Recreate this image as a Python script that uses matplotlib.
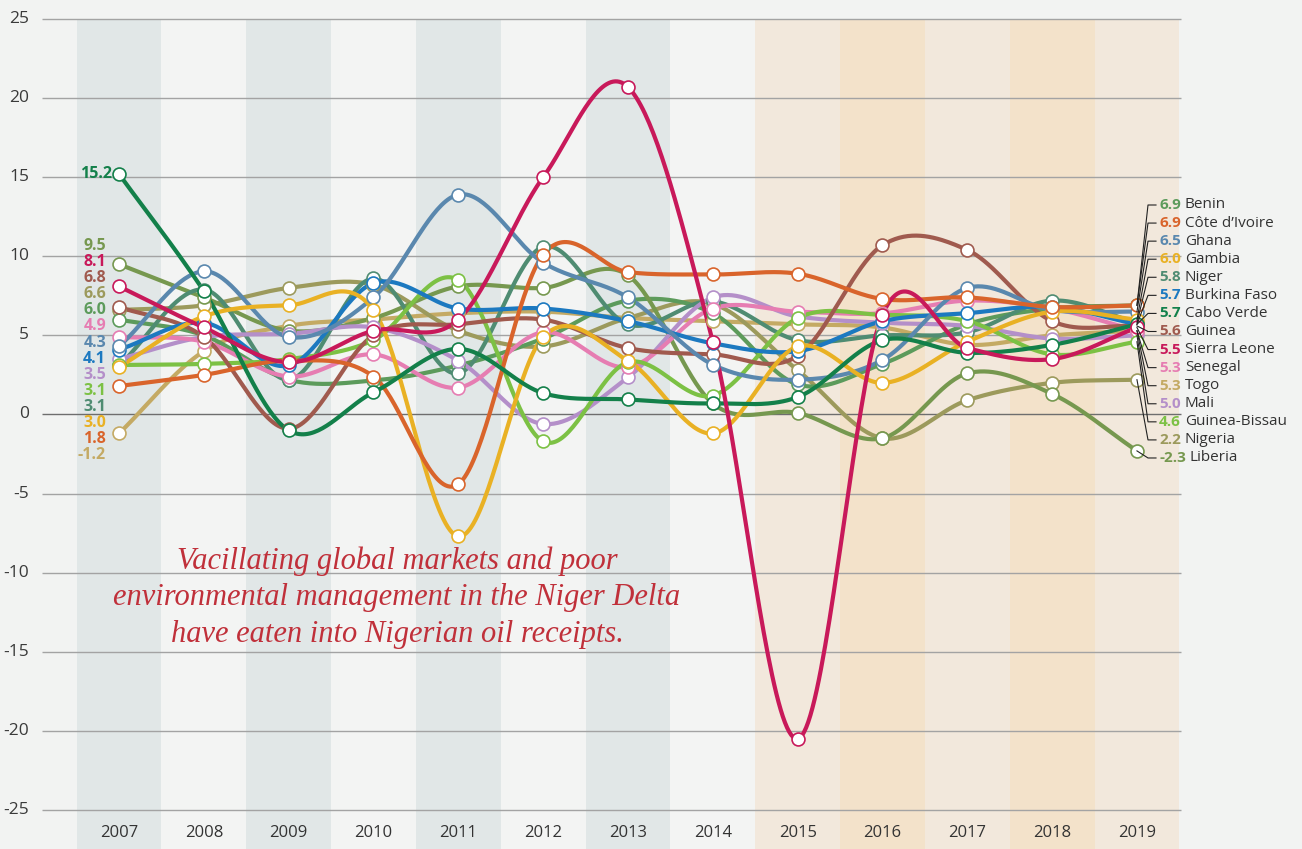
import numpy as np
import matplotlib
matplotlib.use('Agg')
import matplotlib.pyplot as plt

# ---------------- data ----------------
years = list(range(2007, 2020))
countries = ['Benin', 'Côte d’Ivoire', 'Ghana', 'Gambia', 'Niger', 'Burkina Faso',
             'Cabo Verde', 'Guinea', 'Sierra Leone', 'Senegal', 'Togo', 'Mali',
             'Guinea-Bissau', 'Nigeria', 'Liberia']

benin         = [6.0, 5.0, 2.2, 2.15, 3.1, 4.8, 7.2, 6.4, 1.9, 3.2, 5.7, 6.7, 6.9]
cote_divoire  = [1.8, 2.5, 3.4, 2.4, -4.4, 10.1, 9.0, 8.85, 8.9, 7.3, 7.4, 6.8, 6.9]
ghana         = [4.3, 9.05, 4.9, 7.4, 13.9, 9.6, 7.4, 3.15, 2.2, 3.45, 8.0, 6.6, 6.5]
gambia        = [3.0, 6.2, 6.9, 6.6, -7.7, 4.9, 3.4, -1.2, 4.3, 2.0, 4.6, 6.5, 6.0]
niger         = [3.1, 7.9, 2.2, 8.6, 2.6, 10.6, 5.7, 7.15, 4.7, 5.0, 5.2, 7.2, 5.8]
burkina_faso  = [4.1, 5.8, 3.1, 8.3, 6.7, 6.7, 5.9, 4.5, 4.0, 5.9, 6.4, 6.8, 5.7]
cabo_verde    = [15.2, 7.8, -1.0, 1.4, 4.15, 1.35, 0.95, 0.7, 1.1, 4.7, 3.9, 4.4, 5.7]
guinea        = [6.8, 4.9, -0.9, 5.0, 5.7, 6.0, 4.2, 3.8, 3.7, 10.7, 10.4, 5.9, 5.6]
sierra_leone  = [8.1, 5.5, 3.3, 5.3, 6.0, 15.0, 20.7, 4.6, -20.5, 6.3, 4.2, 3.5, 5.5]
senegal       = [4.9, 4.6, 2.4, 3.8, 1.7, 5.2, 3.0, 6.7, 6.5, 6.4, 7.2, 6.7, 5.3]
togo          = [-1.2, 4.0, 5.6, 6.0, 6.4, 6.5, 6.1, 5.9, 5.7, 5.5, 4.4, 5.0, 5.3]
mali          = [3.5, 4.9, 5.1, 5.5, 3.4, -0.6, 2.35, 7.4, 6.2, 5.8, 5.6, 4.8, 5.0]
guinea_bissau = [3.13, 3.2, 3.5, 4.7, 8.5, -1.7, 3.3, 1.2, 6.1, 6.3, 5.9, 3.8, 4.6]
nigeria       = [6.6, 6.9, 8.0, 8.2, 5.3, 4.3, 6.1, 7.0, 2.8, -1.5, 0.9, 2.0, 2.2]
liberia       = [9.5, 7.4, 5.3, 6.1, 8.1, 8.0, 8.8, 0.7, 0.1, -1.5, 2.6, 1.3, -2.3]

series = [benin, cote_divoire, ghana, gambia, niger, burkina_faso, cabo_verde, guinea,
          sierra_leone, senegal, togo, mali, guinea_bissau, nigeria, liberia]

colors = ['#5c9b5b', '#d9642b', '#5a88ae', '#e9b124', '#4f8c72', '#1c79c0', '#13804a',
          '#a05a4e', '#c8195a', '#e67db2', '#c4aa64', '#b48fc9', '#7cc144', '#9c9a5c',
          '#76984f']

y_ticks = [25, 20, 15, 10, 5, 0, -5, -10, -15, -20, -25]
note_lines = ['Vacillating global markets and poor',
              'environmental management in the Niger Delta',
              'have eaten into Nigerian oil receipts.']

# ---------------- figure ----------------
W, H = 1302, 849
fig = plt.figure(figsize=(W / 100, H / 100), dpi=100)
fig.patch.set_facecolor('#f2f3f2')
ax = fig.add_axes([0, 0, 1, 1])
ax.set_facecolor('#f2f3f2')

px_per_year = 84.83
x0_px = 119.0
px_per_unit = 15.82
y0_px = 414.5
ax.set_xlim(2007 - x0_px / px_per_year, 2007 + (W - x0_px) / px_per_year)
ax.set_ylim(-(H - y0_px) / px_per_unit, y0_px / px_per_unit)
ax.axis('off')


def px2data(px, py):
    xl = ax.get_xlim(); yl = ax.get_ylim()
    return (xl[0] + px / W * (xl[1] - xl[0]), yl[1] - py / H * (yl[1] - yl[0]))


# bands
band_cols = {}
for y in years:
    if y <= 2014:
        band_cols[y] = '#e1e7e7' if (y - 2007) % 2 == 0 else '#f3f4f3'
    else:
        band_cols[y] = '#f2e8dc' if (y - 2015) % 2 == 0 else '#f3e2ca'
ytop = 25
ybot = ax.get_ylim()[0]
for y in years:
    ax.fill_between([y - 0.5, y + 0.5], ybot, ytop, color=band_cols[y], lw=0, zorder=0)

# grid lines
gx0, _ = px2data(42, 0)
gx1 = 2019.52
for v in y_ticks:
    ax.plot([gx0, gx1], [v, v], color='#6e6e6e' if v == 0 else '#a3a3a3',
            lw=1.0, zorder=1, solid_capstyle='butt')
    ax.text(px2data(29, 0)[0], v, f'{v}', ha='right', va='center', fontsize=12.5,
            color='#3a3a3a', family='Open Sans')

for y in years:
    ax.text(y, px2data(0, 833)[1], str(y), ha='center', va='center', fontsize=12,
            color='#333333', family='Open Sans')


def smooth(xs, ys, n=40):
    xs = np.asarray(xs, float); ys = np.asarray(ys, float)
    m = np.zeros_like(ys)
    m[1:-1] = (ys[2:] - ys[:-2]) / (xs[2:] - xs[:-2])
    m[0] = (ys[1] - ys[0]) / (xs[1] - xs[0])
    m[-1] = (ys[-1] - ys[-2]) / (xs[-1] - xs[-2])
    X, Y = [], []
    for i in range(len(xs) - 1):
        h = xs[i + 1] - xs[i]
        t = np.linspace(0, 1, n, endpoint=(i == len(xs) - 2))
        h00 = 2 * t**3 - 3 * t**2 + 1
        h10 = t**3 - 2 * t**2 + t
        h01 = -2 * t**3 + 3 * t**2
        h11 = t**3 - t**2
        X.append(xs[i] + t * h)
        Y.append(h00 * ys[i] + h10 * h * m[i] + h01 * ys[i + 1] + h11 * h * m[i + 1])
    return np.concatenate(X), np.concatenate(Y)


draw_order = [10, 13, 0, 14, 4, 11, 9, 12, 7, 5, 2, 3, 1, 6, 8]
for k, i in enumerate(draw_order):
    sx, sy = smooth(years, series[i])
    ax.plot(sx, sy, color=colors[i], lw=3.0, zorder=3 + k * 0.01, solid_capstyle='round')
for k, i in enumerate(draw_order):
    ax.plot(years, series[i], ls='none', marker='o', ms=9.3, mfc='white',
            mec=colors[i], mew=1.2, zorder=5 + k * 0.01)

# left labels (2007)
order_l = sorted(range(len(series)), key=lambda i: -series[i][0])
for r, i in enumerate(order_l):
    if r == 0:
        ly = series[i][0]
        lx = px2data(112, 0)[0]
    else:
        ly = px2data(0, 246 + (r - 1) * 16.1)[1]
        lx = px2data(106, 0)[0]
    ax.text(lx, ly, f'{series[i][0]:.1f}', ha='right', va='center', fontsize=11.5,
            fontweight='bold', color=colors[i], family='Open Sans', zorder=8)

# right labels (2019)
order_r = sorted(range(len(series)), key=lambda i: -series[i][-1])
fig.canvas.draw()
renderer = fig.canvas.get_renderer()
for r, i in enumerate(order_r):
    py = 205 + r * 18.07
    _, ly = px2data(0, py)
    xa, _ = px2data(1148, 0)
    xb, _ = px2data(1156, 0)
    ax.plot([2019, xa, xb], [series[i][-1], ly, ly], color='#222222', lw=0.8, zorder=7)
    t = ax.text(px2data(1159, 0)[0], ly, f'{series[i][-1]:.1f}', ha='left', va='center',
                fontsize=11, fontweight='bold', color=colors[i], family='Open Sans', zorder=8)
    bb = t.get_window_extent(renderer)
    ax.text(px2data(bb.x1 + 4, 0)[0], ly, countries[i], ha='left', va='center',
            fontsize=11, color='#333333', family='Open Sans', zorder=8)

# annotation
for j, (line, py) in enumerate(zip(note_lines, [561, 598, 635])):
    x, yv = px2data(397, py)
    ax.text(x, yv, line, ha='center', va='center', fontsize=22, style='italic',
            color='#c0303a', family='Liberation Serif', zorder=8)

fig.savefig('out.png', dpi=100, facecolor=fig.get_facecolor())
